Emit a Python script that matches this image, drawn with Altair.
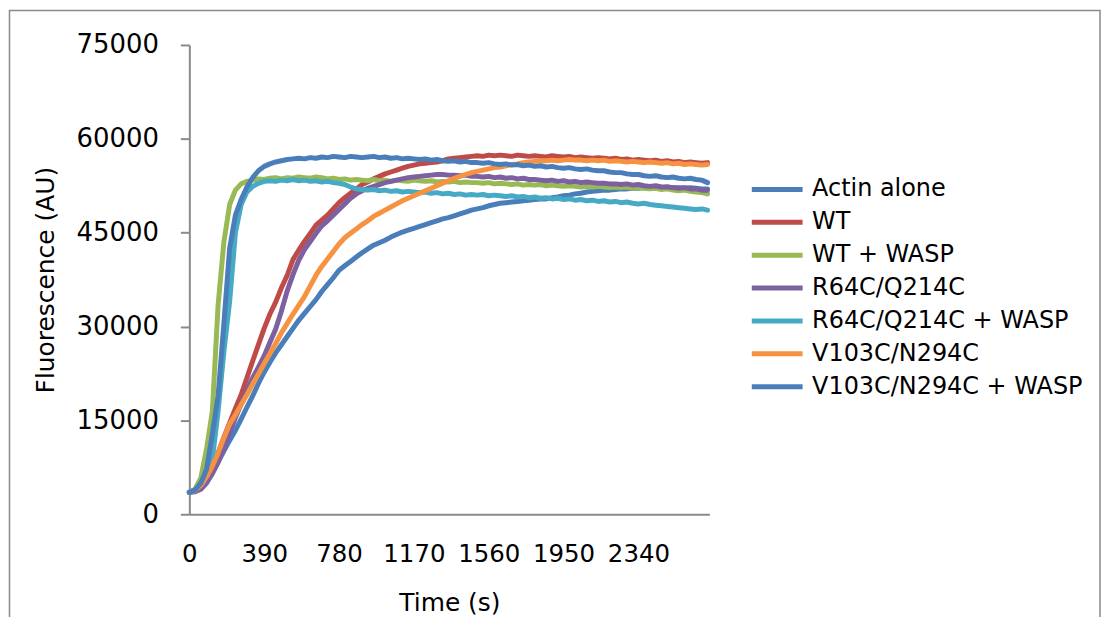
import altair as alt
import pandas as pd

# sampling grid (s)
TIME = list(range(0, 2701, 30))

SERIES = ["Actin alone", "WT", "WT + WASP", "R64C/Q214C",
          "R64C/Q214C + WASP", "V103C/N294C", "V103C/N294C + WASP"]
COLORS = ["#4A7EBB", "#BE4B48", "#98B954", "#7D60A0",
          "#46AAC5", "#F69240", "#4A7EBB"]

Y_TICKS = [0, 15000, 30000, 45000, 60000, 75000]
X_TICKS = [0, 390, 780, 1170, 1560, 1950, 2340]

ACTIN = [
    3500, 3700, 4300, 5300, 6700, 8400, 10100, 11800, 13400, 15200,
    17100, 18900, 20900, 22700, 24300, 25800, 27100, 28400, 29700, 31000,
    32100, 33200, 34300, 35600, 36700, 37800, 39000, 39700, 40400, 41100,
    41800, 42400, 43000, 43400, 43800, 44300, 44700, 45100, 45400, 45700,
    46000, 46300, 46600, 46900, 47200, 47400, 47700, 48000, 48300, 48600,
    48800, 49000, 49300, 49500, 49700, 49800, 49900, 50000, 50100, 50200,
    50300, 50400, 50400, 50600, 50700, 50900, 51000, 51200, 51300, 51500,
    51600, 51700, 51800, 51800, 51900, 52000, 52000, 52100, 52100, 52200,
    52200, 52100, 52200, 52300, 52200, 52200, 52100, 52200, 52100, 52000,
    52000]

WT = [
    3500, 3800, 4500, 5800, 7600, 9800, 12300, 14600, 16900, 19100,
    21800, 24500, 27100, 29700, 32000, 33900, 36200, 38200, 40700, 42200,
    43600, 44900, 46200, 47000, 47800, 48800, 49800, 50600, 51300, 52000,
    52700, 53100, 53600, 54000, 54400, 54700, 55000, 55300, 55600, 55800,
    56000, 56100, 56200, 56300, 56500, 56800, 56900, 57000, 57100, 57200,
    57300, 57200, 57400, 57300, 57400, 57300, 57200, 57400, 57300, 57200,
    57300, 57200, 57100, 57300, 57200, 57100, 57200, 57000, 57100, 57000,
    56900, 57000, 56900, 56800, 56900, 56700, 56800, 56600, 56700, 56600,
    56500, 56600, 56400, 56500, 56300, 56400, 56200, 56300, 56200, 56100,
    56200]

WT_WASP = [
    3500, 4000, 5800, 10500, 16500, 33500, 43500, 49500, 51800, 52800,
    53200, 53400, 53600, 53500, 53700, 53800, 53600, 53800, 53700, 53900,
    53800, 53700, 53900, 53800, 53600, 53700, 53500, 53600, 53400, 53500,
    53400, 53300, 53500, 53300, 53400, 53200, 53400, 53300, 53200, 53400,
    53300, 53200, 53300, 53100, 53200, 53100, 53200, 53000, 53100, 53000,
    53000, 52900, 53000, 52800, 52900, 52800, 52700, 52800, 52600, 52700,
    52600, 52700, 52500, 52600, 52500, 52400, 52500, 52400, 52300, 52400,
    52300, 52400, 52300, 52200, 52300, 52200, 52300, 52100, 52200, 52100,
    52000, 52100, 51900, 52000, 51800, 51700, 51800, 51600, 51500, 51400,
    51200]

R64C = [
    3500, 3600, 4000, 5000, 6500, 8300, 10500, 13000, 15400, 17600,
    19800, 21800, 23500, 25300, 27500, 29600, 32500, 35700, 38300, 40600,
    42300, 43600, 44900, 46100, 46900, 47800, 48700, 49600, 50500, 51200,
    51700, 52100, 52400, 52700, 53000, 53200, 53400, 53600, 53800, 53900,
    54000, 54100, 54200, 54300, 54300, 54200, 54200, 54100, 54200, 54000,
    54000, 53900, 54000, 53800, 53900, 53700, 53800, 53600, 53700, 53500,
    53500, 53400, 53300, 53400, 53200, 53300, 53100, 53200, 53000, 53100,
    53000, 52900, 52900, 52800, 52800, 52700, 52800, 52600, 52700, 52500,
    52400, 52500, 52300, 52300, 52200, 52100, 52200, 52000, 52000, 51800,
    51800]

R64C_WASP = [
    3500, 3900, 4800, 6500, 8800, 16500, 26000, 34000, 45000, 49500,
    51500, 52400, 52900, 53200, 53300, 53200, 53400, 53300, 53500, 53300,
    53400, 53200, 53300, 53100, 53200, 53000, 52900, 52700, 52300, 52000,
    51900, 51800, 51900, 51700, 51800, 51600, 51700, 51500, 51600, 51500,
    51400, 51500, 51300, 51400, 51200, 51300, 51100, 51200, 51000, 51100,
    51000, 51100, 50900, 51000, 50900, 50800, 50900, 50700, 50800, 50600,
    50700, 50500, 50600, 50400, 50500, 50300, 50400, 50200, 50300, 50100,
    50200, 50000, 50100, 49900, 50000, 49800, 49900, 49700, 49600, 49700,
    49500, 49400, 49300, 49200, 49100, 49000, 48900, 48800, 48700, 48800,
    48600]

V103C = [
    3500, 3800, 4600, 6000, 7700, 9800, 12200, 14400, 15900, 17500,
    19100, 20800, 22400, 24100, 25700, 27300, 29000, 30500, 32000, 33400,
    34800, 36500, 38200, 39600, 40800, 42000, 43200, 44200, 44900, 45600,
    46300, 46900, 47600, 48100, 48600, 49100, 49600, 50100, 50500, 50900,
    51300, 51700, 52100, 52500, 52900, 53300, 53700, 54000, 54300, 54600,
    54800, 55000, 55200, 55400, 55500, 55700, 55900, 56000, 56200, 56300,
    56400, 56500, 56500, 56600, 56500, 56600, 56700, 56600, 56600, 56500,
    56600, 56500, 56600, 56400, 56500, 56400, 56300, 56400, 56300, 56200,
    56300, 56200, 56100, 56200, 56000, 56100, 55900, 56000, 55900, 55800,
    55900]

V103C_WASP = [
    3500, 3900, 5000, 7200, 12800, 19000, 30500, 42500, 47800, 50300,
    52300, 53800, 54900, 55600, 56000, 56300, 56500, 56700, 56800, 56900,
    56800, 57000, 56900, 57100, 57000, 57200, 57100, 57000, 57200, 57100,
    57000, 57100, 57200, 57000, 57100, 56900, 57000, 56800, 56900, 56800,
    56700, 56800, 56600, 56700, 56500, 56400, 56500, 56300, 56400, 56200,
    56200, 56100, 56200, 56000, 55900, 56000, 55800, 55900, 55700, 55800,
    55600, 55700, 55500, 55600, 55400, 55300, 55400, 55200, 55100, 55200,
    55000, 54900, 54900, 54700, 54600, 54600, 54400, 54300, 54300, 54100,
    54000, 54100, 53900, 53800, 53900, 53700, 53600, 53700, 53500, 53400,
    53000]

VALUES = [ACTIN, WT, WT_WASP, R64C, R64C_WASP, V103C, V103C_WASP]

rows = []
for name, vals in zip(SERIES, VALUES):
    assert len(vals) == len(TIME), (name, len(vals))
    for t, v in zip(TIME, vals):
        rows.append({"Time": t, "Fluorescence": v, "Series": name})
df = pd.DataFrame(rows)

FONT = "DejaVu Sans"
AXIS_GRAY = "#8A8A8A"

lines = alt.Chart(df).mark_line(
    strokeWidth=5, strokeJoin="round", strokeCap="round"
).encode(
    x=alt.X("Time:Q",
            scale=alt.Scale(domain=[0, 2710], nice=False, zero=True),
            axis=alt.Axis(title="Time (s)", values=X_TICKS, format="d",
                          grid=False, ticks=False, labelFlush=False,
                          labelOverlap=False, labelPadding=47,
                          labelBaseline="alphabetic",
                          labelFontSize=24.5, titleFontSize=25,
                          titleBaseline="alphabetic", titleY=97,
                          titleFontWeight="normal")),
    y=alt.Y("Fluorescence:Q",
            scale=alt.Scale(domain=[0, 75000], nice=False),
            axis=alt.Axis(title="Fluorescence (AU)", values=Y_TICKS,
                          format="d", grid=False, tickSize=9,
                          labelPadding=22, labelFlush=False,
                          labelOverlap=False,
                          labelFontSize=26, titleFontSize=25,
                          titleBaseline="alphabetic", titleX=-136,
                          titleFontWeight="normal")),
    color=alt.Color("Series:N", sort=SERIES,
                    scale=alt.Scale(domain=SERIES, range=COLORS),
                    legend=alt.Legend(title=None, orient="none",
                                      legendX=562, legendY=132,
                                      symbolType="stroke", symbolSize=2601,
                                      symbolStrokeWidth=5,
                                      labelFontSize=24, labelFont=FONT,
                                      labelOffset=7, labelLimit=500,
                                      clipHeight=26,
                                      padding=0, rowPadding=7)),
    order=alt.Order("Time:Q"),
)

frame = alt.Chart(pd.DataFrame({"k": [0]})).mark_rect(
    fill="transparent", stroke=AXIS_GRAY, strokeWidth=1.5
).encode(
    x=alt.value(-180.5), x2=alt.value(914),
    y=alt.value(-34.5), y2=alt.value(700)
)

chart = alt.layer(frame, lines).properties(
    width=522, height=471,
    autosize=alt.AutoSizeParams(type="none"),
    padding={"left": 182, "top": 36, "right": 396, "bottom": 102},
).configure(
    font=FONT,
).configure_view(
    stroke=None
).configure_axis(
    domainColor=AXIS_GRAY, domainWidth=2, tickColor=AXIS_GRAY, tickWidth=2,
    labelColor="#000000", titleColor="#000000", labelFont=FONT,
    titleFont=FONT
)

chart.save("out.html", embed_options={"renderer": "svg", "actions": False})
